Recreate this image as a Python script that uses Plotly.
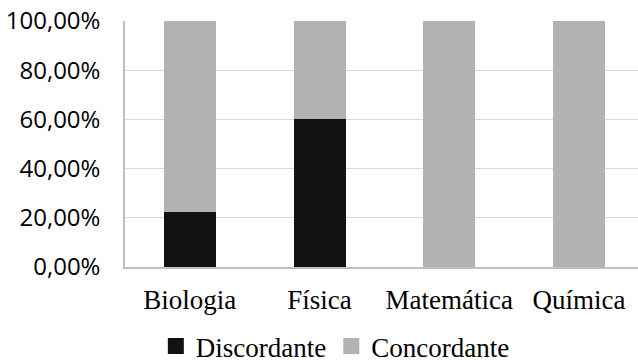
import plotly.graph_objects as go

categories = ["Biologia", "Física", "Matemática", "Química"]
discordante = [22.22, 60.0, 0.0, 0.0]
concordante = [77.78, 40.0, 100.0, 100.0]
y_ticks = [0, 20, 40, 60, 80, 100]
y_tick_labels = ["0,00%", "20,00%", "40,00%", "60,00%", "80,00%", "100,00%"]

BLACK = "#121212"
GRAY = "#b2b2b2"
SERIF = "Liberation Serif"

fig = go.Figure()
fig.add_trace(go.Bar(x=categories, y=discordante, name="Discordante",
                     marker=dict(color=BLACK, line=dict(width=0)), width=0.4, showlegend=False))
fig.add_trace(go.Bar(x=categories, y=concordante, name="Concordante",
                     marker=dict(color=GRAY, line=dict(width=0)), width=0.4, showlegend=False))
# legend entries
fig.add_trace(go.Scatter(x=[None], y=[None], mode="markers", name="Discordante",
                         marker=dict(symbol="square", size=16, color=BLACK)))
fig.add_trace(go.Scatter(x=[None], y=[None], mode="markers", name="Concordante",
                         marker=dict(symbol="square", size=16, color=GRAY)))

fig.update_layout(
    width=638, height=363,
    barmode="stack",
    bargap=0,
    font=dict(family=SERIF, size=27, color="black"),
    plot_bgcolor="white", paper_bgcolor="white",
    margin=dict(l=125, r=0, t=21, b=96, autoexpand=False),
    showlegend=True,
    legend=dict(orientation="h", x=0.41, xanchor="center", y=-0.423,
                yanchor="bottom", font=dict(family=SERIF, size=27, color="black"),
                itemsizing="trace", traceorder="normal", bgcolor="rgba(0,0,0,0)"),
    xaxis=dict(range=[-0.5, 3.455], showgrid=False, showline=True, linecolor="#bfbfbf",
               linewidth=1.5, ticks="", tickfont=dict(family=SERIF, size=27, color="black"),
               ticklabelstandoff=8, fixedrange=True, automargin=False),
    yaxis=dict(range=[0, 100], tickvals=y_ticks, ticktext=y_tick_labels, showgrid=True,
               gridcolor="#d9d9d9", gridwidth=1.2, showline=True, linecolor="#bfbfbf", linewidth=1.5,
               zeroline=False, ticks="", ticklabelstandoff=18, automargin=False,
               ticklabeloverflow="allow", fixedrange=True,
               tickfont=dict(family="Open Sans", size=24, color="black")),
)
fig.write_html("out.html", config={"displayModeBar": False},
               post_script="document.body.style.margin='0';")
